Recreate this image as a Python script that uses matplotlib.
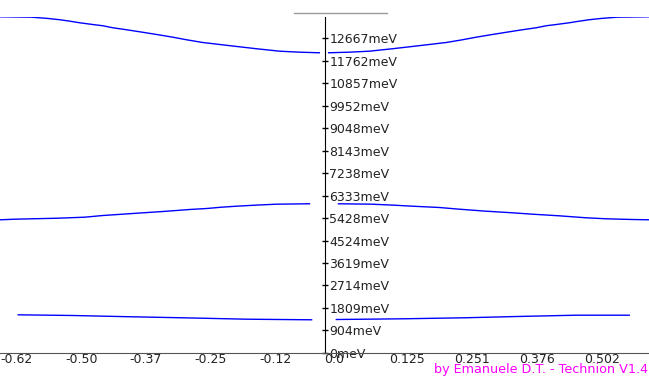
import numpy as np
import matplotlib.pyplot as plt
from matplotlib.lines import Line2D

plt.rcParams['axes.unicode_minus'] = False
plt.rcParams['font.family'] = 'DejaVu Sans'

# band 1 (lowest)
k1_left = [-0.593, -0.487, -0.373, -0.275, -0.151, -0.025]
E1_left = [1531, 1503, 1451, 1411, 1354, 1330]
k1_right = [0.023, 0.151, 0.271, 0.373, 0.487, 0.590]
E1_right = [1342, 1370, 1411, 1463, 1515, 1515]

# band 2
k2_left = [-0.628, -0.599, -0.516, -0.464, -0.429, -0.400, -0.371, -0.342, -0.313,
           -0.286, -0.261, -0.228, -0.199, -0.170, -0.135, -0.093, -0.029]
E2_left = [5360, 5384, 5424, 5465, 5533, 5573, 5614, 5654, 5694,
           5735, 5775, 5815, 5868, 5908, 5948, 5989, 6005]
k2_right = [0.027, 0.091, 0.135, 0.170, 0.222, 0.261, 0.313, 0.364, 0.402,
            0.454, 0.506, 0.545, 0.595, 0.628]
E2_right = [6005, 5989, 5948, 5908, 5856, 5787, 5706, 5642, 5586,
            5521, 5441, 5400, 5372, 5360]

# band 3
k3_left = [-0.628, -0.567, -0.535, -0.512, -0.493, -0.474, -0.449, -0.429, -0.410,
           -0.383, -0.358, -0.325, -0.294, -0.267, -0.236, -0.203, -0.170,
           -0.131, -0.087, -0.048, -0.010]
E3_left = [13540, 13525, 13472, 13420, 13363, 13299, 13230, 13178, 13098,
           13017, 12936, 12827, 12719, 12614, 12505, 12424, 12344,
           12251, 12154, 12114, 12090]
k3_right = [0.008, 0.048, 0.087, 0.131, 0.170, 0.203, 0.236, 0.267, 0.294,
            0.325, 0.358, 0.383, 0.410, 0.429, 0.449, 0.474, 0.493,
            0.512, 0.535, 0.567, 0.628]
E3_right = [12090, 12114, 12154, 12251, 12344, 12424, 12505, 12614, 12719,
            12827, 12936, 13017, 13098, 13178, 13230, 13299, 13363,
            13420, 13472, 13525, 13540]

x_ticks = [i * np.pi / 25 for i in range(-5, 5)]
x_labels = ["-0.62", "-0.50", "-0.37", "-0.25", "-0.12", "0.0", "0.125", "0.251", "0.376", "0.502"]
y_step = 904.76
y_labels = ["0meV", "904meV", "1809meV", "2714meV", "3619meV", "4524meV", "5428meV",
            "6333meV", "7238meV", "8143meV", "9048meV", "9952meV", "10857meV",
            "11762meV", "12667meV"]

fig = plt.figure(figsize=(6.49, 3.76), dpi=100)
ax = fig.add_axes([0, 0.0617, 1, 0.956 - 0.0617])

for k, E in [(k1_left, E1_left), (k1_right, E1_right), (k2_left, E2_left),
             (k2_right, E2_right), (k3_left, E3_left), (k3_right, E3_right)]:
    ax.plot(k, E, color='#0000ff', lw=1)

ax.set_xlim(-np.pi / 5, np.pi / 5)
ax.set_ylim(0, 13550)

ax.spines['top'].set_visible(False)
ax.spines['left'].set_visible(False)
ax.spines['right'].set_position(('data', 0))
ax.spines['right'].set_color('black')
ax.spines['bottom'].set_position(('data', 0))
ax.spines['bottom'].set_color('#555555')

ax.yaxis.set_ticks_position('right')
ax.set_yticks([i * y_step for i in range(len(y_labels))])
ax.set_yticklabels(y_labels)
ax.tick_params(axis='y', direction='inout', length=5, width=1, pad=1,
               labelsize=9, labelcolor='#222222')

ax.set_xticks(x_ticks)
ax.set_xticklabels(x_labels, ha='left')
ax.tick_params(axis='x', length=0, pad=0.5, labelsize=9, labelcolor='#222222')

fig.add_artist(Line2D([294 / 649, 387 / 649], [1 - 12.7 / 376, 1 - 12.7 / 376],
                      color='#999999', lw=1))
fig.text(0.999, 1 - 369.5 / 376, "by Emanuele D.T. - Technion V1.4", color='#ff00ff',
         fontsize=9.2, ha='right', va='center')

fig.savefig('out.png', dpi=100)
